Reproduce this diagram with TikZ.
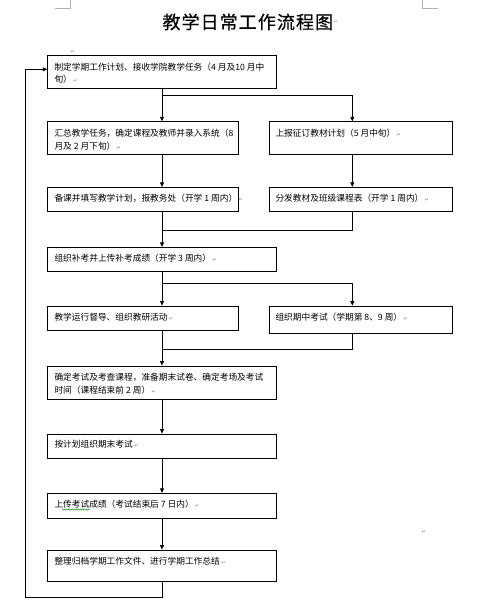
\documentclass[tikz,border=0pt]{standalone}
\usepackage{fontspec}
\setmainfont{Noto Sans CJK SC}
\newfontfamily\dv{DejaVu Sans}
\newfontfamily\ttl[FakeBold=0.5,LetterSpace=6]{Noto Sans CJK SC}
\usetikzlibrary{arrows.meta,fit,decorations.pathmorphing}
\newcommand{\rmk}{\,{\dv\fontsize{5}{5}\selectfont\color{gray}↵}}
\tikzset{
  box/.style={draw=black, line width=0.8pt, inner sep=0pt, fill=white},
  txt/.style={anchor=north west, inner sep=0pt, align=left, font=\fontsize{8.7}{12.4}\selectfont},
  arr/.style={draw=black, line width=0.8pt, -{Triangle[length=4.5pt,width=4pt]}},
  ln/.style={draw=black, line width=0.8pt},
  cornermark/.style={draw=gray!60, line width=0.6pt}
}
\begin{document}
\begin{tikzpicture}[x=1pt,y=-1pt]
\useasboundingbox (0,0) rectangle (495,600);
% page corner marks
\draw[cornermark] (55,8.3) -- (70.7,8.3) -- (70.7,0);
\draw[cornermark] (437.7,8.3) -- (422.7,8.3) -- (422.7,0);
% title
\node[anchor=west, inner sep=0pt, font=\ttl\fontsize{18}{18}\selectfont] (title) at (162.3,21.9) {教学日常工作流程图};
\node[anchor=west, inner sep=0pt] (m2) at (title.east) {\dv\fontsize{5}{5}\selectfont\color{gray}↵};
\node[inner sep=0pt] (m0) at (73,51.7) {\dv\fontsize{5}{5}\selectfont\color{gray}↵};
\node[inner sep=0pt] (m1) at (424,531.7) {\dv\fontsize{5}{5}\selectfont\color{gray}↵};
% spine coordinates
\coordinate (sp) at (162,0);
\coordinate (rt) at (352.3,0);
% boxes
\node[box, fit={(47.7,55.7) (276.3,88.3)}] (b1) {};
\node[box, fit={(47.7,121.7) (238.3,154)}] (b2) {};
\node[box, fit={(269.3,121.7) (452.3,154)}] (b3) {};
\node[box, fit={(47.7,187.3) (238.3,211)}] (b4) {};
\node[box, fit={(269.3,187.3) (452.3,211)}] (b5) {};
\node[box, fit={(47.7,247.3) (276.3,271.3)}] (b6) {};
\node[box, fit={(47.7,306) (238.3,330.7)}] (b7) {};
\node[box, fit={(269.3,306) (452.3,333)}] (b8) {};
\node[box, fit={(47.7,366) (276.3,399)}] (b9) {};
\node[box, fit={(47.7,434) (276.3,458.7)}] (b10) {};
\node[box, fit={(47.7,493.3) (276.3,518.3)}] (b11) {};
\node[box, fit={(47.7,550) (276.3,581.7)}] (b12) {};
% texts
\node[txt] (t1) at (54.3,62.9) {制定学期工作计划、接收学院教学任务（4 月及10 月中\\旬）\rmk};
\node[txt] (t2) at (54.3,129) {汇总教学任务，确定课程及教师并录入系统（8\\月及 2 月下旬）\rmk};
\node[txt] (t3) at (275.3,129) {上报征订教材计划（5 月中旬）\rmk};
\node[txt] (t4) at (54.3,193.9) {备课并填写教学计划，报教务处（开学 1 周内）\rmk};
\node[txt] (t5) at (275.3,193.9) {分发教材及班级课程表（开学 1 周内）\rmk};
\node[txt] (t6) at (54.3,254.2) {组织补考并上传补考成绩（开学 3 周内）\rmk};
\node[txt] (t7) at (54.3,312.9) {教学运行督导、组织教研活动\rmk};
\node[txt] (t8) at (275.3,312.9) {组织期中考试（学期第 8、9 周）\rmk};
\node[txt] (t9) at (54.3,373.2) {确定考试及考查课程，准备期末试卷、确定考场及考试\\时间（课程结束前 2 周）\rmk};
\node[txt] (t10) at (54.3,440.2) {按计划组织期末考试\rmk};
\node[txt] (t11) at (54.3,500.2) {上传考试成绩（考试结束后 7 日内）\rmk};
\node[txt] (t12) at (54.3,556.9) {整理归档学期工作文件、进行学期工作总结\rmk};
% spell squiggle
\draw[green!55!black, line width=0.4pt, decorate, decoration={snake, amplitude=0.6pt, segment length=2pt}] (62,509.5) -- (90,509.5);
% connectors
\coordinate (j1) at (162,95);
\coordinate (j2) at (162,230.7);
\coordinate (j3) at (162,283.3);
\coordinate (j4) at (162,349);
\draw[arr] (b1.south -| sp) -- (b2.north -| sp);
\draw[arr] (j1) -| (b3.north -| rt);
\draw[arr] (b2.south -| sp) -- (b4.north -| sp);
\draw[arr] (b3.south -| rt) -- (b5.north -| rt);
\draw[arr] (b4.south -| sp) -- (b6.north -| sp);
\draw[ln] (b5.south -| rt) |- (j2);
\draw[arr] (b6.south -| sp) -- (b7.north -| sp);
\draw[arr] (j3) -| (b8.north -| rt);
\draw[arr] (b7.south -| sp) -- (b9.north -| sp);
\draw[ln] (b8.south -| rt) |- (j4);
\draw[arr] (b9.south -| sp) -- (b10.north -| sp);
\draw[arr] (b10.south -| sp) -- (b11.north -| sp);
\draw[arr] (b11.south -| sp) -- (b12.north -| sp);
% feedback loop
\coordinate (fb1) at (162,597.3);
\coordinate (fb2) at (25,597.3);
\coordinate (fb3) at (25,69.3);
\draw[arr] (b12.south -| sp) -- (fb1) -- (fb2) -- (fb3) -- (b1.west |- fb3);
\end{tikzpicture}
\end{document}
